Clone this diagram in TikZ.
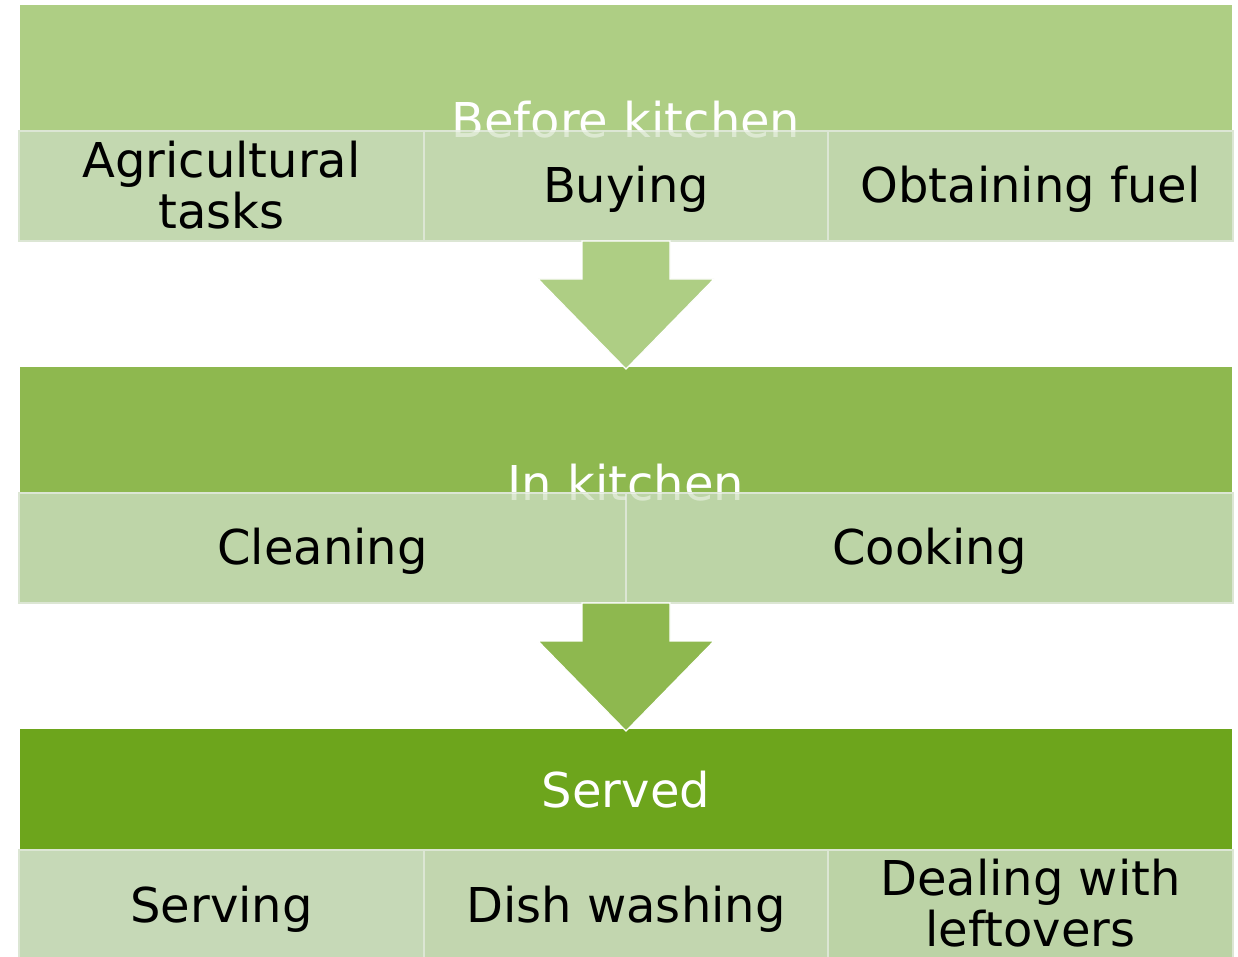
\documentclass[tikz,border=0pt]{standalone}
\usepackage{fontspec}
\setmainfont{DejaVu Sans}
\usetikzlibrary{calc}
\begin{document}
\begin{tikzpicture}[x=1pt,y=-1pt,
  hdrbox/.style={draw=none,rectangle,inner sep=0pt,outer sep=0pt,minimum width=1212pt,minimum height=#1},
  cell/.style={rectangle,inner sep=0pt,outer sep=0pt,draw=cellline,line width=2pt},
  lbl/.style={inner sep=0pt,text=black,font=\fontsize{48}{51}\selectfont,align=center},
  hlbl/.style={inner sep=0pt,text=white,font=\fontsize{48}{51}\selectfont},
  flow/.style={draw=white,line width=1.2pt,line join=miter}]
\definecolor{hdrA}{HTML}{AECE84}
\definecolor{hdrB}{HTML}{8EB84F}
\definecolor{hdrC}{HTML}{6DA51C}
\definecolor{cellline}{HTML}{DCE6D4}
\definecolor{cA1}{HTML}{C3D8B0}
\definecolor{cA2}{HTML}{C2D7AE}
\definecolor{cA3}{HTML}{C0D6AB}
\definecolor{cB1}{HTML}{BED5A8}
\definecolor{cB2}{HTML}{BCD4A6}
\definecolor{cC1}{HTML}{C6D9B7}
\definecolor{cC2}{HTML}{C2D6AF}
\definecolor{cC3}{HTML}{BCD3A6}
\useasboundingbox (0,0) rectangle (1238,957);
\clip (0,0) rectangle (1238,957);

% ---- stage 1: before kitchen ----
\node (h1) [hdrbox=126pt,fill=hdrA] at (626,68) {};
\begin{scope}
  \clip (20,5) rectangle (1232,131);
  \node (t1) [hlbl,anchor=base] at (626,138) {Before kitchen};
\end{scope}
\node (a1) [cell,fill=cA1,minimum width=405pt,minimum height=110pt] at (221.5,186) {};
\node (a2) [cell,fill=cA2,minimum width=404pt,minimum height=110pt] at (626,186) {};
\node (a3) [cell,fill=cA3,minimum width=405pt,minimum height=110pt] at (1030.5,186) {};
\begin{scope}
  \clip (19,131) rectangle (1233,241);
  \node [hlbl,anchor=base,text opacity=0.45] at (626,138) {Before kitchen};
\end{scope}
\node (l1) [lbl] at (221.5,185) {Agricultural\\tasks};
\node (l2) [lbl,anchor=base] at (626,203) {Buying};
\node (l3) [lbl,anchor=base] at (1030.5,203) {Obtaining fuel};

% ---- stage 2: in kitchen ----
\node (h2) [hdrbox=126pt,fill=hdrB] at (626,430) {};
\begin{scope}
  \clip (20,367) rectangle (1232,493);
  \node (t2) [hlbl,anchor=base] at (626,500) {In kitchen};
\end{scope}
\node (b1) [cell,fill=cB1,minimum width=607pt,minimum height=110pt] at (322.5,548) {};
\node (b2) [cell,fill=cB2,minimum width=607pt,minimum height=110pt] at (929.5,548) {};
\begin{scope}
  \clip (19,493) rectangle (1233,603);
  \node [hlbl,anchor=base,text opacity=0.45] at (626,500) {In kitchen};
\end{scope}
\node (m1) [lbl,anchor=base] at (322.5,564) {Cleaning};
\node (m2) [lbl,anchor=base] at (929.5,564) {Cooking};

% ---- stage 3: served ----
\node (h3) [hdrbox=121pt,fill=hdrC] at (626,789.5) {};
\node (t3) [hlbl,anchor=base] at (626,807) {Served};
\node (c1) [cell,fill=cC1,minimum width=405pt,minimum height=112pt] at (221.5,906) {};
\node (c2) [cell,fill=cC2,minimum width=404pt,minimum height=112pt] at (626,906) {};
\node (c3) [cell,fill=cC3,minimum width=405pt,minimum height=112pt] at (1030.5,906) {};
\node (n1) [lbl,anchor=base] at (221.5,922) {Serving};
\node (n2) [lbl,anchor=base] at (626,922) {Dish washing};
\node (n3) [lbl] at (1030.5,903) {Dealing with\\leftovers};

% ---- block arrows between stages ----
\path[flow,fill=hdrA] (a2.south) ++(-44,0) -- ++(88,0) -- ++(0,38) -- ++(44,0)
  -- ($(h2.north)+(0,2)$) -- ++(-88,-90) -- ++(44,0) -- cycle;
\path[flow,fill=hdrB] (b2.south west) ++(-44,0) -- ++(88,0) -- ++(0,38) -- ++(44,0)
  -- ($(h3.north)+(0,2)$) -- ++(-88,-90) -- ++(44,0) -- cycle;
\end{tikzpicture}
\end{document}
